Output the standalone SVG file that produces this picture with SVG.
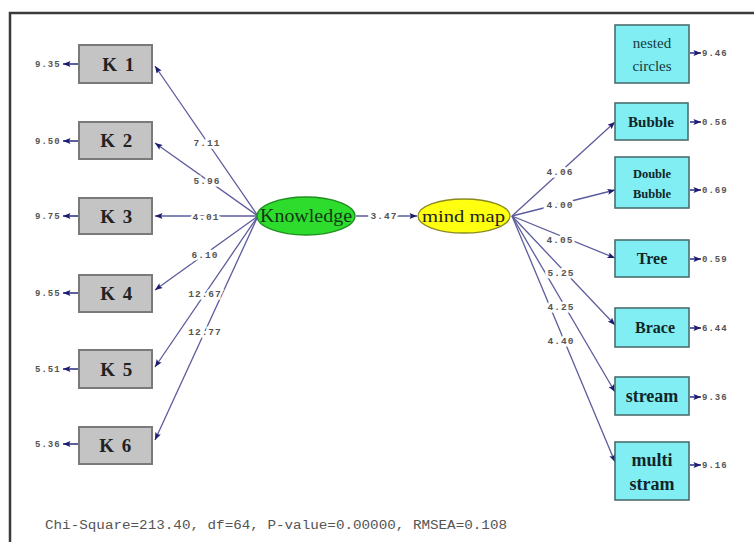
<svg xmlns="http://www.w3.org/2000/svg" width="754" height="542" viewBox="0 0 754 542">
<defs>
<marker id="ah" viewBox="0 0 10 8" refX="10" refY="4" markerWidth="9" markerHeight="6" markerUnits="userSpaceOnUse" orient="auto">
<path d="M0,0 L10,4 L0,8 L2,4 Z" fill="#1c1c70"/>
</marker>
<style>
.frame{fill:none;stroke:#3a3a3a;stroke-width:2.5}
.gbox{fill:#c4c4c4;stroke:#7a7a7a;stroke-width:2}
.cbox{fill:#80eef2;stroke:#4a6e6e;stroke-width:1.6}
.ln{stroke:#5c5c9c;stroke-width:1.3;fill:none;marker-end:url(#ah)}
.err{stroke:#2a2a80;stroke-width:1.5;fill:none;marker-end:url(#ah)}
.num{font-family:"Liberation Mono",monospace;font-size:9px;fill:#555;font-weight:bold;letter-spacing:1px}
.lab{font-family:"Liberation Mono",monospace;font-size:9.5px;fill:#555;font-weight:bold;letter-spacing:1px;text-anchor:middle;paint-order:stroke;stroke:#fff;stroke-width:5px}
.kt{font-family:"Liberation Serif",serif;font-size:19px;font-weight:bold;fill:#222;text-anchor:middle;letter-spacing:1.5px}
.rt{font-family:"Liberation Serif",serif;font-weight:bold;fill:#12262a;text-anchor:middle}
</style>
</defs>
<rect width="754" height="542" fill="#fff"/>
<path class="frame" d="M10,542 V13 H754"/>

<g id="connectors">
<line class="ln" x1="258" y1="216" x2="155" y2="66"/>
<line class="ln" x1="258" y1="216" x2="155" y2="143"/>
<line class="ln" x1="258" y1="216" x2="155" y2="216"/>
<line class="ln" x1="258" y1="216" x2="155" y2="290"/>
<line class="ln" x1="258" y1="216" x2="155" y2="367"/>
<line class="ln" x1="258" y1="216" x2="155" y2="440"/>
<line class="ln" x1="356" y1="216" x2="417" y2="216"/>
<line class="ln" x1="512" y1="216" x2="615" y2="122"/>
<line class="ln" x1="512" y1="216" x2="615" y2="190"/>
<line class="ln" x1="512" y1="216" x2="615" y2="258"/>
<line class="ln" x1="512" y1="216" x2="615" y2="325"/>
<line class="ln" x1="512" y1="216" x2="615" y2="392"/>
<line class="ln" x1="512" y1="216" x2="615" y2="462"/>
<text class="lab" x="207" y="146">7.11</text>
<text class="lab" x="207" y="184">5.96</text>
<text class="lab" x="206" y="220">4.01</text>
<text class="lab" x="205" y="258">6.10</text>
<text class="lab" x="205" y="297">12.67</text>
<text class="lab" x="205" y="335">12.77</text>
<text class="lab" x="384" y="219">3.47</text>
<text class="lab" x="560" y="175">4.06</text>
<text class="lab" x="560" y="208">4.00</text>
<text class="lab" x="560" y="243">4.05</text>
<text class="lab" x="561" y="276">5.25</text>
<text class="lab" x="561" y="310">4.25</text>
<text class="lab" x="561" y="344">4.40</text>
<line class="err" x1="79" y1="64" x2="63" y2="64"/>
<line class="err" x1="79" y1="141" x2="63" y2="141"/>
<line class="err" x1="79" y1="216" x2="63" y2="216"/>
<line class="err" x1="79" y1="293" x2="63" y2="293"/>
<line class="err" x1="79" y1="369" x2="63" y2="369"/>
<line class="err" x1="79" y1="444" x2="63" y2="444"/>
<line class="err" x1="690" y1="53" x2="701" y2="53"/>
<line class="err" x1="690" y1="122" x2="701" y2="122"/>
<line class="err" x1="690" y1="190" x2="701" y2="190"/>
<line class="err" x1="690" y1="259" x2="701" y2="259"/>
<line class="err" x1="690" y1="328" x2="701" y2="328"/>
<line class="err" x1="690" y1="397" x2="701" y2="397"/>
<line class="err" x1="690" y1="465" x2="701" y2="465"/>
</g>

<g id="err-labels">
<text class="num" x="35" y="67">9.35</text>
<text class="num" x="35" y="144">9.50</text>
<text class="num" x="35" y="219">9.75</text>
<text class="num" x="35" y="296">9.55</text>
<text class="num" x="35" y="372">5.51</text>
<text class="num" x="35" y="447">5.36</text>
<text class="num" x="702" y="56">9.46</text>
<text class="num" x="702" y="125">0.56</text>
<text class="num" x="702" y="193">0.69</text>
<text class="num" x="702" y="262">0.59</text>
<text class="num" x="702" y="331">6.44</text>
<text class="num" x="702" y="400">9.36</text>
<text class="num" x="702" y="468">9.16</text>
</g>

<g id="K1"><rect class="gbox" x="79" y="45" width="73" height="38"/><text class="kt" x="119" y="71">K 1</text></g>
<g id="K2"><rect class="gbox" x="79" y="122" width="73" height="37"/><text class="kt" x="117" y="147">K 2</text></g>
<g id="K3"><rect class="gbox" x="79" y="198" width="73" height="36"/><text class="kt" x="117" y="223">K 3</text></g>
<g id="K4"><rect class="gbox" x="79" y="275" width="73" height="37"/><text class="kt" x="117" y="300">K 4</text></g>
<g id="K5"><rect class="gbox" x="79" y="350" width="73" height="38"/><text class="kt" x="117" y="376">K 5</text></g>
<g id="K6"><rect class="gbox" x="79" y="427" width="73" height="37"/><text class="kt" x="116" y="452">K 6</text></g>

<g id="Knowledge"><ellipse cx="306" cy="216" rx="49" ry="19" fill="#2edc2e" stroke="#1f8f1f" stroke-width="1.3"/><text x="260" y="222" font-family="Liberation Serif, serif" font-size="18" fill="#123812" textLength="92" lengthAdjust="spacingAndGlyphs">Knowledge</text></g>
<g id="mindmap"><ellipse cx="464" cy="216" rx="46" ry="17" fill="#ffff10" stroke="#8a8a20" stroke-width="1.3"/><text x="422" y="222" font-family="Liberation Serif, serif" font-size="17" fill="#222" textLength="83" lengthAdjust="spacingAndGlyphs">mind map</text></g>

<g id="nested"><rect class="cbox" x="615" y="25" width="74" height="58"/><text x="652" y="48" font-family="Liberation Serif, serif" font-size="15" fill="#1a3a40" text-anchor="middle">nested</text><text x="652" y="71" font-family="Liberation Serif, serif" font-size="15" fill="#1a3a40" text-anchor="middle">circles</text></g>
<g id="Bubble"><rect class="cbox" x="615" y="103" width="73" height="37"/><text class="rt" x="651" y="127" font-size="15">Bubble</text></g>
<g id="DoubleBubble"><rect class="cbox" x="615" y="157" width="74" height="51"/><text class="rt" x="652" y="178" font-size="12.5">Double</text><text class="rt" x="652" y="198" font-size="12.5">Bubble</text></g>
<g id="Tree"><rect class="cbox" x="615" y="240" width="74" height="37"/><text class="rt" x="652" y="264" font-size="16">Tree</text></g>
<g id="Brace"><rect class="cbox" x="615" y="308" width="74" height="39"/><text class="rt" x="655" y="333" font-size="16">Brace</text></g>
<g id="stream"><rect class="cbox" x="615" y="377" width="74" height="38"/><text class="rt" x="652" y="402" font-size="18">stream</text></g>
<g id="multistram"><rect class="cbox" x="615" y="442" width="74" height="58"/><text class="rt" x="652" y="466" font-size="18">multi</text><text class="rt" x="652" y="490" font-size="18">stram</text></g>

<text x="45" y="529" font-family="Liberation Mono, monospace" font-size="12.5" fill="#555" textLength="462" lengthAdjust="spacingAndGlyphs">Chi-Square=213.40, df=64, P-value=0.00000, RMSEA=0.108</text>
</svg>
